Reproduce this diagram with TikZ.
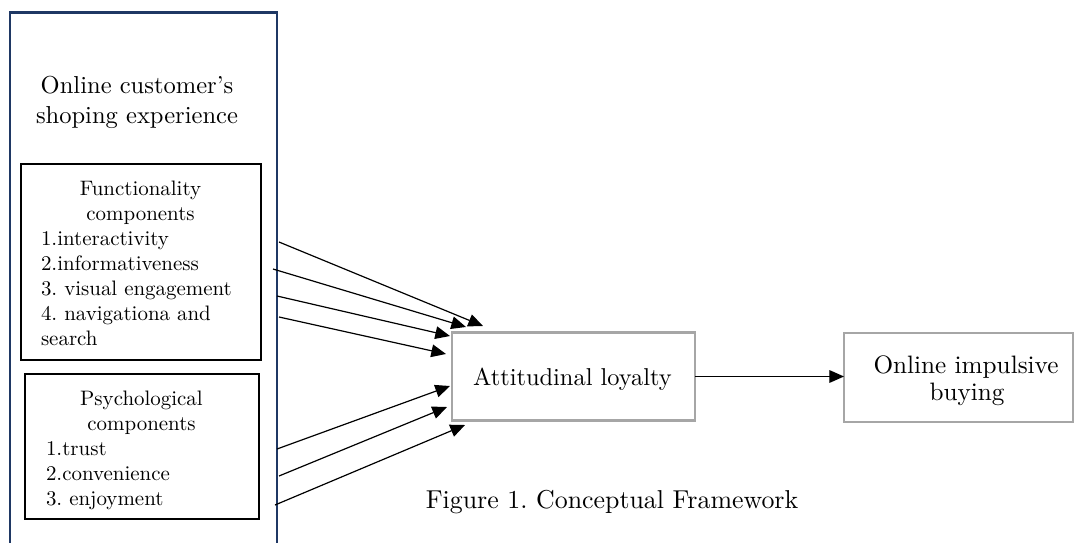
\documentclass[tikz,border=0pt]{standalone}
\usepackage{fontspec}
\setmainfont{lmroman10-regular}[Extension=.otf]
\usetikzlibrary{arrows.meta}
\definecolor{navy}{HTML}{1F3864}
\definecolor{boxgray}{HTML}{A6A6A6}
\frenchspacing
\begin{document}
\begin{tikzpicture}[x=0.75pt,y=-0.75pt,
  lbl/.style={inner sep=0pt, outer sep=0pt, text=black},
  ttl/.style={lbl, anchor=base, font=\fontsize{18.4pt}{22.5pt}\selectfont},
  hdr/.style={lbl, anchor=base, font=\fontsize{15.7pt}{18.75pt}\selectfont},
  itm/.style={lbl, anchor=base west, font=\fontsize{15.7pt}{18.75pt}\selectfont},
  big/.style={lbl, anchor=base, font=\fontsize{18.3pt}{20pt}\selectfont},
  captiontext/.style={lbl, anchor=base, font=\fontsize{19.4pt}{22pt}\selectfont},
  frame/.style={draw=navy, line width=2pt, inner sep=0pt, outer sep=0pt, rectangle},
  thinbox/.style={draw=black, line width=0.8pt, inner sep=0pt, outer sep=0pt, rectangle},
  graybox/.style={draw=boxgray, line width=1.6pt, inner sep=0pt, outer sep=0pt, rectangle, fill=white},
  arr/.style={-{Triangle[length=11pt,width=9.5pt]}, line width=0.9pt, draw=black}
]
\useasboundingbox[fill=white] (0,0) rectangle (1076,543);

% outer frame
\node[frame, minimum width=200.25pt, minimum height=410.5pt] (outer) at (143.5,286.35) {};
\node[ttl] (t1) at (137,93) {Online customer’s};
\node[ttl] (t2) at (137,123) {shoping experience};

% functionality box
\node[thinbox, minimum width=180pt, minimum height=147pt] (func) at (141,262) {};
\node[hdr] (fh1) at (140.5,195) {Functionality};
\node[hdr] (fh2) at (140.5,220) {components};
\node[itm] (f1) at (41,245) {1.interactivity};
\node[itm] (f2) at (41,270) {2.informativeness};
\node[itm] (f3) at (41,295) {3. visual engagement};
\node[itm] (f4) at (41,320) {4. navigationa and};
\node[itm] (f5) at (41,345) {search};

% psychological box
\node[thinbox, minimum width=175.5pt, minimum height=108.75pt] (psy) at (142,446.5) {};
\node[hdr] (ph1) at (141.5,405) {Psychological};
\node[hdr] (ph2) at (141.5,430) {components};
\node[itm] (p1) at (46,455) {1.trust};
\node[itm] (p2) at (46,480) {2.convenience};
\node[itm] (p3) at (46,505) {3. enjoyment};

% attitudinal loyalty
\node[graybox, minimum width=182.25pt, minimum height=66pt] (att) at (573.5,376.5) {};
\node[big] (attl) at (572.5,385) {Attitudinal loyalty};

% online impulsive buying
\node[graybox, minimum width=171.75pt, minimum height=66.75pt] (oib) at (958.5,377.5) {};
\node[big, font=\fontsize{18.9pt}{20pt}\selectfont] (oib1) at (966,373) {Online impulsive};
\node[big, font=\fontsize{18.9pt}{20pt}\selectfont] (oib2) at (967,400) {buying};

% caption
\node[captiontext] (capt) at (612,508) {Figure 1. Conceptual Framework};

% arrow endpoints
\coordinate (s1) at (279,242); \coordinate (e1) at (483,326);
\coordinate (s2) at (273,269); \coordinate (e2) at (466,327);
\coordinate (s3) at (277,296); \coordinate (e3) at (450,336);
\coordinate (s4) at (279,317); \coordinate (e4) at (446,354);
\coordinate (s5) at (277,449); \coordinate (e5) at (450,386);
\coordinate (s6) at (279,476); \coordinate (e6) at (447,407);
\coordinate (s7) at (275,505); \coordinate (e7) at (465,425);

\foreach \i in {1,...,7} {\draw[arr] (s\i) -- (e\i);}
\draw[arr] (att.east) -- (att.east -| oib.west);
\end{tikzpicture}
\end{document}
